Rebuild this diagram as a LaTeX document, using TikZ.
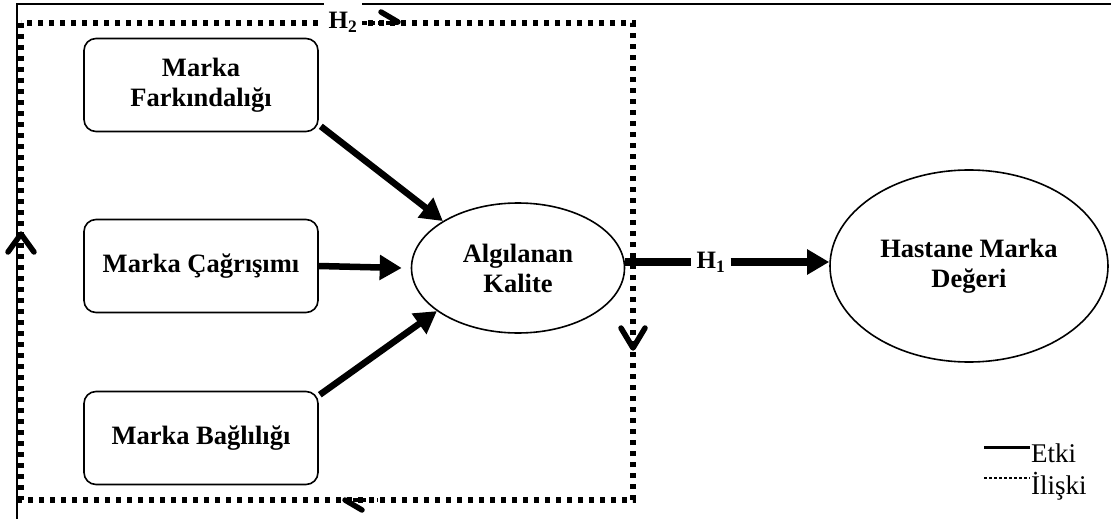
\documentclass[tikz,border=0pt]{standalone}
\usepackage{fontspec}
\setmainfont{Liberation Serif}
\usetikzlibrary{arrows.meta,shapes.geometric}
\begin{document}
\begin{tikzpicture}[x=1pt,y=-1pt,
  box/.style={draw,line width=1.6pt,rounded corners=12pt,minimum width=234pt,minimum height=93pt,align=center,inner sep=2pt,font=\fontsize{26.5}{30}\selectfont\bfseries},
  oval/.style={draw,ellipse,line width=1.6pt,inner sep=0pt,align=center,font=\fontsize{26.5}{30}\selectfont\bfseries},
  dots/.style={line width=5.5pt,dash pattern=on 5pt off 6pt},
  effect/.style={line width=6.5pt,-{Triangle[length=22pt,width=24pt]}},
  chev/.style={line width=5.5pt,line cap=round,line join=round},
  dashseg/.style={line width=4pt,dash pattern=on 5pt off 3pt},
  hlab/.style={font=\fontsize{25}{27}\selectfont\bfseries,fill=white,inner sep=5pt},
  legtext/.style={anchor=base west,inner sep=0pt,font=\fontsize{27}{30}\selectfont}]
\useasboundingbox (0,0) rectangle (1111,519);
% outer frame (top and left)
\draw[line width=2.5pt] (17,519) -- (17,4) -- (1111,4);
% dotted relation rectangle
\draw[dots] (21,23) rectangle (633,500);
% nodes
\node[box] (f) at (201,85) {Marka\\Farkındalığı};
\node[box] (c) at (201,266) {Marka Çağrışımı};
\node[box] (b) at (201,438) {Marka Bağlılığı};
\node[oval,minimum width=213pt,minimum height=130pt] (k) at (518,268) {Algılanan\\Kalite};
\node[oval,minimum width=278pt,minimum height=192pt] (hm) at (969,266) {Hastane Marka\\Değeri};
% effects
\draw[effect] ([xshift=2pt,yshift=6pt]f.south east) -- (k.148);
\draw[effect] (c.east) -- ([xshift=-9pt]k.west);
\draw[effect] ([xshift=1pt,yshift=-4pt]b.north east) -- (k.208);
% H1
\node[hlab] (h1) at (711,262) {H\textsubscript{1}};
\draw[line width=8pt] (h1.west -| k.east) -- (h1.west);
\draw[line width=8pt,-{Triangle[length=22pt,width=24pt]}] (h1.east) -- (h1.east -| hm.west);
% H2 label
\node[hlab,minimum width=38pt,minimum height=40pt,inner sep=0pt] (h2) at (343,22) {H\textsubscript{2}};
% direction marks on the dotted rectangle
\draw[chev] (8,252) -- (21,234) -- (34,252);
\draw[chev] (621,328) -- (633,348) -- (645,328);
\draw[dashseg] (h2.east |- 0,23) -- (398,23);
\draw[chev] (381,12) -- (398,22);
\draw[dashseg] (345,500) -- (378,500);
\draw[chev] (345,500) -- (362,510);
% legend
\coordinate (e1) at (984,447);
\coordinate (e2) at (1030,447);
\coordinate (r1) at (984,478);
\coordinate (r2) at (1030,478);
\draw[line width=3pt] (e1) -- (e2);
\draw[line width=2.5pt,dash pattern=on 2.5pt off 2.5pt] (r1) -- (r2);
\node[legtext] (etki) at (1031,462) {Etki};
\node[legtext] (iliski) at (1031,494) {İlişki};
\end{tikzpicture}
\end{document}
